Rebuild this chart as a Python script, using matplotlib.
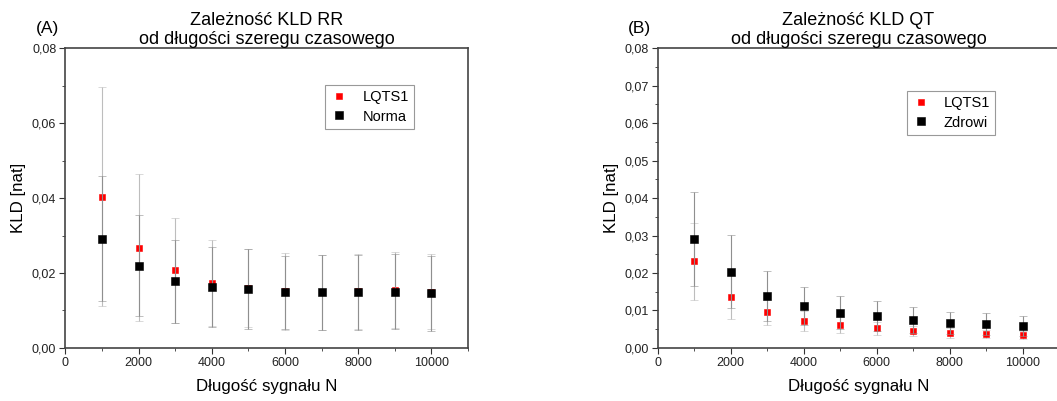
import numpy as np
import matplotlib
matplotlib.use("Agg")
import matplotlib.pyplot as plt
from matplotlib.ticker import MultipleLocator, FuncFormatter

plt.rcParams['font.family'] = ['Liberation Sans', 'DejaVu Sans']

# --- data ---
N = [1000, 2000, 3000, 4000, 5000, 6000, 7000, 8000, 9000, 10000]

# (A) RR
rr_lqts1 = [0.0404, 0.0268, 0.0207, 0.0173, 0.0160, 0.0151, 0.0149, 0.0151, 0.0154, 0.0150]
rr_lqts1_err = [0.0293, 0.0195, 0.0141, 0.0115, 0.0105, 0.0103, 0.0100, 0.0101, 0.0101, 0.0100]
rr_norma = [0.0292, 0.0220, 0.0178, 0.0163, 0.0157, 0.0148, 0.0148, 0.0149, 0.0150, 0.0146]
rr_norma_err = [0.0167, 0.0135, 0.0111, 0.0106, 0.0106, 0.0098, 0.0100, 0.0100, 0.0100, 0.0100]

# (B) QT
qt_lqts1 = [0.0231, 0.0136, 0.0095, 0.0072, 0.0061, 0.0052, 0.0045, 0.0039, 0.0037, 0.0034]
qt_lqts1_err = [0.0103, 0.0058, 0.0034, 0.0027, 0.0021, 0.0017, 0.0014, 0.0013, 0.0011, 0.0010]
qt_zdrowi = [0.0291, 0.0204, 0.0139, 0.0112, 0.0094, 0.0084, 0.0074, 0.0067, 0.0063, 0.0058]
qt_zdrowi_err = [0.0125, 0.0097, 0.0067, 0.0050, 0.0044, 0.0040, 0.0034, 0.0030, 0.0029, 0.0026]

comma = FuncFormatter(lambda v, p: f"{v:.2f}".replace(".", ","))


def panel(ax, s1, e1, s2, e2, lab2, title, tag, ymajor, leg_pos):
    c1 = ax.errorbar(N, s1, yerr=e1, fmt='s', color='#ff0000', ms=4.6, mec='#ff0000', mew=0.4,
                     ecolor='#bdbdbd', elinewidth=0.8, capsize=3, capthick=0.8, label='LQTS1', zorder=3)
    c2 = ax.errorbar(N, s2, yerr=e2, fmt='s', color='black', ms=5.4, mec='black', mew=0.4,
                     ecolor='#8f8f8f', elinewidth=0.8, capsize=3, capthick=0.8, label=lab2, zorder=4)
    ax.set_xlim(0, 11000)
    ax.set_ylim(0, 0.08)
    ax.xaxis.set_major_locator(MultipleLocator(2000))
    ax.xaxis.set_minor_locator(MultipleLocator(1000))
    ax.yaxis.set_major_locator(MultipleLocator(ymajor))
    ax.yaxis.set_minor_locator(MultipleLocator(ymajor / 2))
    ax.yaxis.set_major_formatter(comma)
    ax.tick_params(which='both', direction='out', top=False, right=False, labelsize=9,
                   color='#333333', labelcolor='#222222', pad=2)
    ax.tick_params(which='major', length=4.5)
    ax.tick_params(which='minor', length=2.5)
    for sp in ax.spines.values():
        sp.set_color('#444444')
        sp.set_linewidth(1.2)
    ax.set_title(title, fontsize=13, pad=-1, linespacing=1.12)
    ax.set_xlabel('Długość sygnału N', fontsize=12.2, labelpad=7)
    ax.set_ylabel('KLD [nat]', fontsize=12.2, labelpad=4)
    ax.text(-0.074, 1.04, tag, transform=ax.transAxes, fontsize=12.5, ha='left', va='bottom')
    leg = ax.legend(handles=[c1[0], c2[0]], labels=['LQTS1', lab2], loc='upper left',
                    bbox_to_anchor=leg_pos, fontsize=10.5, fancybox=False,
                    framealpha=1, edgecolor='#999999', handletextpad=1.0, borderpad=0.35,
                    handlelength=1.2, labelspacing=0.35)
    leg.get_frame().set_linewidth(0.8)


fig = plt.figure(figsize=(10.57, 4.01), dpi=100)
ax1 = fig.add_axes([0.0618, 0.1322, 0.381, 0.748])
ax2 = fig.add_axes([0.6222, 0.1322, 0.380, 0.748])

panel(ax1, rr_lqts1, rr_lqts1_err, rr_norma, rr_norma_err, 'Norma',
      'Zależność KLD RR\nod długości szeregu czasowego', '(A)', 0.02, (0.627, 0.9))
panel(ax2, qt_lqts1, qt_lqts1_err, qt_zdrowi, qt_zdrowi_err, 'Zdrowi',
      'Zależność KLD QT\nod długości szeregu czasowego', '(B)', 0.01, (0.602, 0.88))

fig.savefig('out.png', dpi=100)
